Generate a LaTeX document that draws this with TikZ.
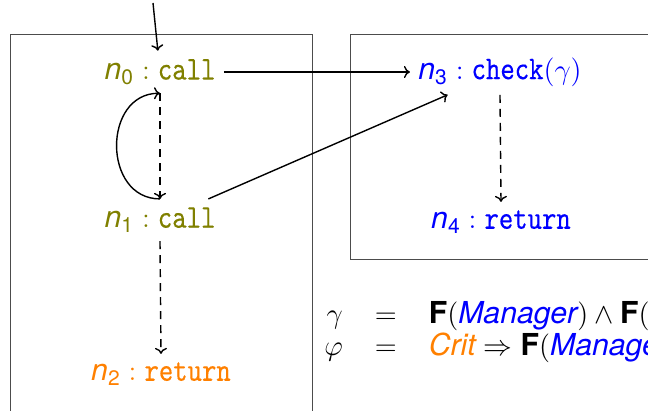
\documentclass[tikz,border=0pt]{standalone}
\usepackage{amsmath}
\usepackage{fontspec}
\setsansfont{TeX Gyre Heros}[Scale=1.05]
\setmonofont{lmmono10-regular.otf}[Scale=1.16,FakeStretch=0.82,FakeBold=0.2]
\usetikzlibrary{arrows.meta}
\definecolor{olivec}{RGB}{128,128,0}
\definecolor{bluec}{RGB}{0,0,255}
\definecolor{orangec}{RGB}{255,128,0}
\newcommand{\nn}[1]{\textsf{\itshape n}_{\textsf{#1}}}
\newcommand{\sfi}[1]{\textsf{\itshape #1}}
\begin{document}
\begin{tikzpicture}[x=0.5pt,y=-0.5pt,
  every node/.style={font=\fontsize{14.4}{17}\selectfont},
  lbl/.style={inner sep=4pt},
  frame/.style={draw=black!70,line width=0.5pt},
  conn/.style={line width=0.7pt,-{To[length=3pt,width=6pt]}},
  dconn/.style={conn,dash pattern=on 4pt off 3pt}]
\useasboundingbox (0,0) rectangle (648,411);
\clip (0,0) rectangle (648,411);
\draw[frame] (10,35) rectangle (312,430);
\draw[frame] (350,35) rectangle (670,260);
\node[lbl,text=olivec] (n0) at (160,72) {$\nn{0} : \texttt{call}$};
\node[lbl,text=olivec] (n1) at (160,220) {$\nn{1} : \texttt{call}$};
\node[lbl,text=orangec] (n2) at (161,374) {$\nn{2} : \texttt{return}$};
\node[lbl,text=bluec] (n3) at (500,72) {$\nn{3} : \texttt{check}(\gamma)$};
\node[lbl,text=bluec] (n4) at (501,222) {$\nn{4} : \texttt{return}$};
\coordinate (in0) at (153,3);
\draw[conn] (in0) -- (n0);
\draw[conn] (n0) -- (n3);
\draw[conn] (n1) -- (n3);
\draw[dconn] (n0.south) -- (n1.north);
\draw[dconn] (n1.south) -- (n2.north);
\draw[dconn] (n3.south) -- (n4.north);
\draw[conn] (n1.north) to[out=180,in=180,looseness=1.4] (n0.south);
\node[anchor=west,inner sep=0pt] (eq) at (308,333) {\setlength{\arraycolsep}{8pt}\renewcommand{\arraystretch}{0.88}$\begin{array}{rcl}
\gamma & = & \textsf{\bfseries F}(\textcolor{bluec}{\sfi{Manager}}) \wedge \textsf{\bfseries F}(\textcolor{bluec}{\sfi{Manager}})\\
\varphi & = & \textcolor{orangec}{\sfi{Crit}} \Rightarrow \textsf{\bfseries F}(\textcolor{bluec}{\sfi{Manager}})
\end{array}$};
\end{tikzpicture}
\end{document}
